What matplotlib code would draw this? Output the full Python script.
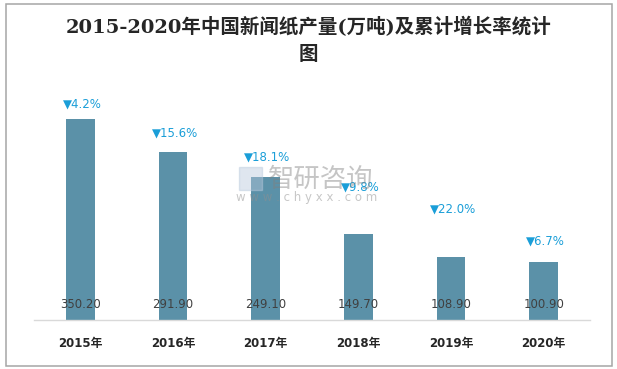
import matplotlib.pyplot as plt
from matplotlib.patches import Rectangle

years = ["2015年", "2016年", "2017年", "2018年", "2019年", "2020年"]
output = [350.20, 291.90, 249.10, 149.70, 108.90, 100.90]
growth = ["4.2%", "15.6%", "18.1%", "9.8%", "22.0%", "6.7%"]

# pixel gap between bar top and the growth label
label_gap = [15, 19, 20, 47, 48, 21]

plt.rcParams['font.family'] = ['DejaVu Sans', 'Noto Sans CJK SC']

W, H = 617, 369
fig = plt.figure(figsize=(W / 100, H / 100), dpi=100)

# outer frame
fig.patches.append(Rectangle((5.5 / W, 3.5 / H), 606 / W, 362 / H, transform=fig.transFigure,
                             fill=False, edgecolor='#a6a6a6', linewidth=1.1))

fig.text(0.5, 1 - 27 / H, "2015-2020年中国新闻纸产量(万吨)及累计增长率统计", ha='center', va='center',
         fontsize=14, fontweight='semibold', color='#262626', family=['DejaVu Serif', 'Noto Sans CJK SC'])
fig.text(0.5, 1 - 55 / H, "图", ha='center', va='center',
         fontsize=14, fontweight='semibold', color='#262626', family=['Noto Sans CJK SC'])

ax = fig.add_axes([34 / W, (H - 320) / H, 556 / W, 229.6 / H])
x = range(len(years))
bars = ax.bar(x, output, width=0.31, color='#5b91a8', zorder=2)
ax.set_xlim(-0.5, 5.5)
ax.set_ylim(0, 400)

for s in ['top', 'right', 'left']:
    ax.spines[s].set_visible(False)
ax.spines['bottom'].set_color('#d9d9d9')
ax.spines['bottom'].set_linewidth(1)
ax.set_yticks([])
ax.set_xticks(list(x))
ax.set_xticklabels(years, fontsize=8.5, fontweight='bold', color='#262626')
ax.tick_params(axis='x', length=0, pad=12)

for i, v in enumerate(output):
    ax.annotate(f"{v:.2f}", (i, 0), xytext=(0, 15 * 0.72), textcoords='offset points',
                ha='center', va='center', fontsize=8.5, color='#404040', zorder=3)
    ax.annotate("▼" + growth[i], (i + 0.02, v), xytext=(0, label_gap[i] * 0.72),
                textcoords='offset points', ha='center', va='center',
                fontsize=8.5, color='#1a9ed8', zorder=3)

# watermark
fig.text(268 / W, 1 - 179 / H, "智研咨询", ha='left', va='center', fontsize=19,
         color='#808080', alpha=0.45, family=['Noto Sans CJK SC'])
fig.text(236 / W, 1 - 198 / H, "w w w . c h y x x . c o m", ha='left', va='center',
         fontsize=8.5, color='#909090', alpha=0.5)
fig.patches.append(Rectangle((239 / W, 1 - 190 / H), 23 / W, 23 / H, transform=fig.transFigure,
                             color='#b8c8dc', alpha=0.45))

fig.savefig("out.png", dpi=100)
